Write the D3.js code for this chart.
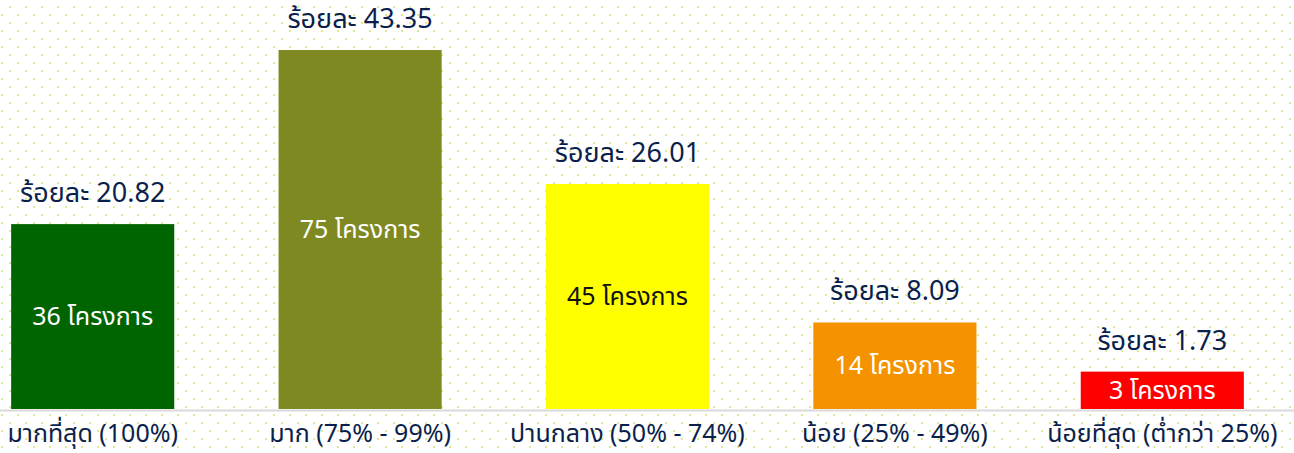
<!DOCTYPE html>
<html>
<head>
<meta charset="utf-8">
<script src="https://cdn.jsdelivr.net/npm/d3@7"></script>
<style>
  html, body { margin: 0; padding: 0; background: #fff; }
  svg { display: block; font-family: "Noto Sans Thai", "Noto Sans Thai Looped", "Noto Sans", sans-serif; }
</style>
</head>
<body>
<script>
// categories and values
const categories = ["มากที่สุด (100%)", "มาก (75% - 99%)", "ปานกลาง (50% - 74%)", "น้อย (25% - 49%)", "น้อยที่สุด (ต่ำกว่า 25%)"]
const percents = [20.82, 43.35, 26.01, 8.09, 1.73]
const projects = [36, 75, 45, 14, 3]
const colors = ["#006400", "#7f8921", "#ffff00", "#f59200", "#ff0000"]
const innerText = ["#fff", "#fff", "#111", "#fff", "#fff"]

const width = 1294, height = 453
const baseline = 409

const svg = d3.select("body")
    .append("svg")
        .attr("width", width)
        .attr("height", height)

// dotted background
const defs = svg.append("defs")
const pat = defs.append("pattern")
    .attr("id", "dots")
    .attr("patternUnits", "userSpaceOnUse")
    .attr("width", 16)
    .attr("height", 16)
pat.append("rect").attr("x", 9).attr("y", 6).attr("width", 2).attr("height", 2).attr("fill", "#dfe994")
pat.append("rect").attr("x", 1).attr("y", 14).attr("width", 2).attr("height", 2).attr("fill", "#dfe994")

svg.append("rect")
    .attr("width", width)
    .attr("height", height)
    .attr("fill", "url(#dots)")

const x = d3.scaleBand()
    .domain(categories)
    .range([-41, 1296])
    .paddingInner(0.39)
    .paddingOuter(0.195)

// bars keep a small minimum height so the label fits
const y = d3.scaleLinear()
    .domain([0, 43.35])
    .range([385, 50])

const rows = categories.map((c, i) => ({ cat: c, pct: percents[i], n: projects[i], color: colors[i], tc: innerText[i] }))

// axis line
svg.append("line")
    .attr("x1", 0).attr("x2", width)
    .attr("y1", baseline + 1.5).attr("y2", baseline + 1.5)
    .attr("stroke", "#d9d9d9")
    .attr("stroke-width", 2)

const bar = svg.selectAll(".bar")
    .data(rows)
    .enter()
    .append("g")
        .attr("class", "bar")

bar.append("rect")
    .attr("x", d => x(d.cat))
    .attr("y", d => y(d.pct))
    .attr("width", x.bandwidth())
    .attr("height", d => baseline - y(d.pct))
    .attr("fill", d => d.color)

bar.append("text")
    .attr("x", d => x(d.cat) + x.bandwidth() / 2)
    .attr("y", d => (y(d.pct) + baseline) / 2)
    .attr("dy", "0.35em")
    .attr("text-anchor", "middle")
    .attr("font-size", 25)
    .attr("fill", d => d.tc)
    .text(d => d.n + " โครงการ")

bar.append("text")
    .attr("x", d => x(d.cat) + x.bandwidth() / 2)
    .attr("y", d => y(d.pct) - 22)
    .attr("text-anchor", "middle")
    .attr("font-size", 27)
    .attr("fill", "#0b1f4d")
    .text(d => "ร้อยละ " + d.pct.toFixed(2))

svg.selectAll(".cat")
    .data(rows)
    .enter()
    .append("text")
        .attr("class", "cat")
        .attr("x", d => x(d.cat) + x.bandwidth() / 2)
        .attr("y", 442)
        .attr("text-anchor", "middle")
        .attr("font-size", 25)
        .attr("fill", "#0b1f4d")
        .text(d => d.cat)
</script>
</body>
</html>
